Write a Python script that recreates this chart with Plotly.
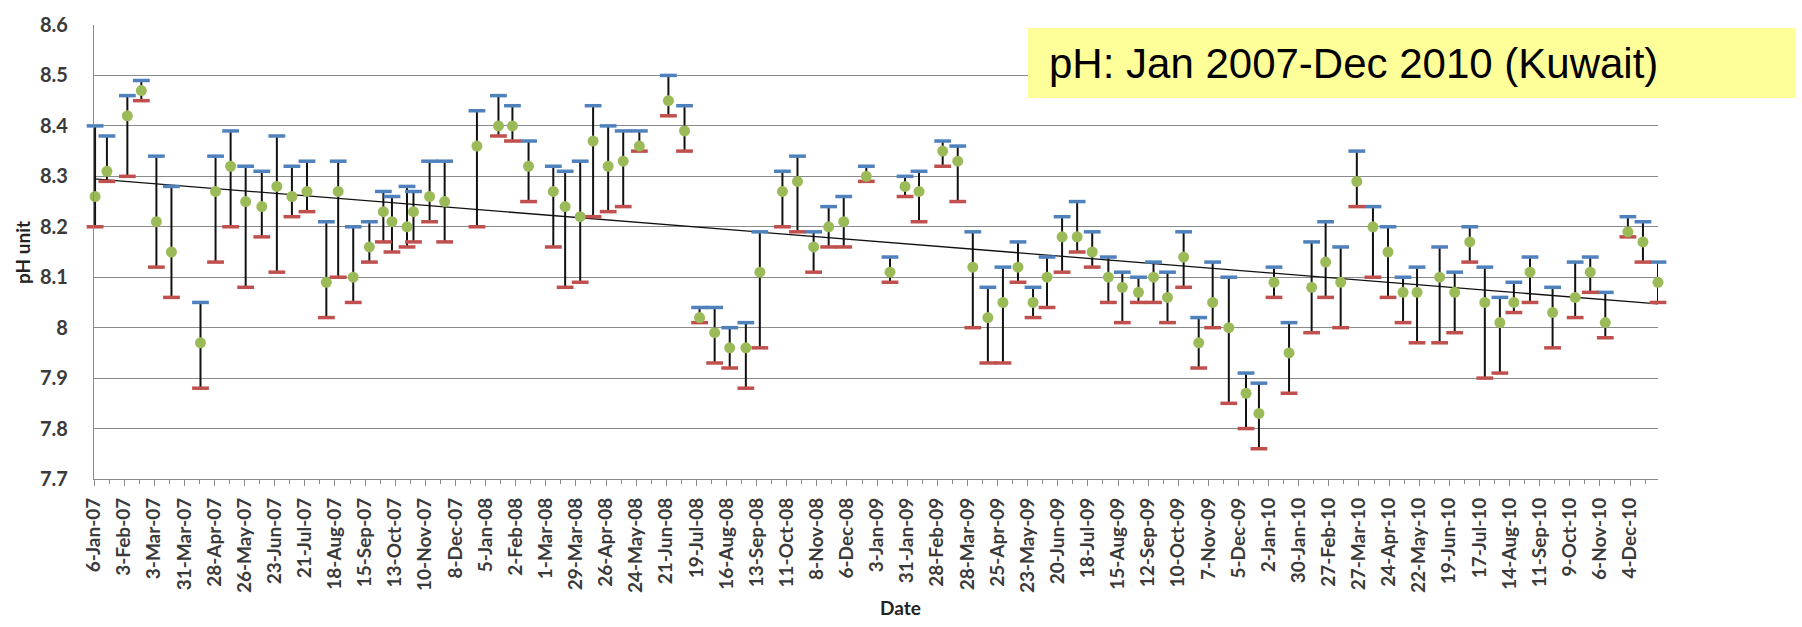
import plotly.graph_objects as go

# ---------------- data ----------------
dates = [
    "2007-01-07", "2007-01-18", "2007-02-06", "2007-02-19", "2007-03-05", "2007-03-19",
    "2007-04-15", "2007-04-29", "2007-05-13", "2007-05-27", "2007-06-11", "2007-06-25",
    "2007-07-09", "2007-07-23", "2007-08-10", "2007-08-21", "2007-09-04", "2007-09-19",
    "2007-10-02", "2007-10-10", "2007-10-24", "2007-10-30", "2007-11-14", "2007-11-28",
    "2007-12-28", "2008-01-17", "2008-01-30", "2008-02-14", "2008-03-08", "2008-03-19",
    "2008-04-02", "2008-04-14", "2008-04-28", "2008-05-12", "2008-05-27", "2008-06-23",
    "2008-07-08", "2008-07-22", "2008-08-05", "2008-08-19", "2008-09-03", "2008-09-16",
    "2008-10-07", "2008-10-21", "2008-11-05", "2008-11-19", "2008-12-03", "2008-12-24",
    "2009-01-15", "2009-01-29", "2009-02-11", "2009-03-05", "2009-03-19", "2009-04-02",
    "2009-04-16", "2009-04-30", "2009-05-14", "2009-05-28", "2009-06-10", "2009-06-24",
    "2009-07-08", "2009-07-22", "2009-08-06", "2009-08-19", "2009-09-03", "2009-09-17",
    "2009-09-30", "2009-10-15", "2009-10-29", "2009-11-11", "2009-11-26", "2009-12-12",
    "2009-12-24", "2010-01-07", "2010-01-21", "2010-02-11", "2010-02-24", "2010-03-10",
    "2010-03-25", "2010-04-09", "2010-04-23", "2010-05-07", "2010-05-20", "2010-06-10",
    "2010-06-24", "2010-07-08", "2010-07-22", "2010-08-05", "2010-08-18", "2010-09-02",
    "2010-09-23", "2010-10-14", "2010-10-28", "2010-11-11", "2010-12-02", "2010-12-16",
    "2010-12-30",
]
ph_high = [
    8.40, 8.38, 8.46, 8.49, 8.34, 8.28, 8.05, 8.34, 8.39, 8.32, 8.31, 8.38,
    8.32, 8.33, 8.21, 8.33, 8.20, 8.21, 8.27, 8.26, 8.28, 8.27, 8.33, 8.33,
    8.43, 8.46, 8.44, 8.37, 8.32, 8.31, 8.33, 8.44, 8.40, 8.39, 8.39, 8.50,
    8.44, 8.04, 8.04, 8.00, 8.01, 8.19, 8.31, 8.34, 8.19, 8.24, 8.26, 8.32,
    8.14, 8.30, 8.31, 8.37, 8.36, 8.19, 8.08, 8.12, 8.17, 8.08, 8.14, 8.22,
    8.25, 8.19, 8.14, 8.11, 8.10, 8.13, 8.11, 8.19, 8.02, 8.13, 8.10, 7.91,
    7.89, 8.12, 8.01, 8.17, 8.21, 8.16, 8.35, 8.24, 8.20, 8.10, 8.12, 8.16,
    8.11, 8.20, 8.12, 8.06, 8.09, 8.14, 8.08, 8.13, 8.14, 8.07, 8.22, 8.21,
    8.13,
]
ph_mean = [
    8.26, 8.31, 8.42, 8.47, 8.21, 8.15, 7.97, 8.27, 8.32, 8.25, 8.24, 8.28,
    8.26, 8.27, 8.09, 8.27, 8.10, 8.16, 8.23, 8.21, 8.20, 8.23, 8.26, 8.25,
    8.36, 8.40, 8.40, 8.32, 8.27, 8.24, 8.22, 8.37, 8.32, 8.33, 8.36, 8.45,
    8.39, 8.02, 7.99, 7.96, 7.96, 8.11, 8.27, 8.29, 8.16, 8.20, 8.21, 8.30,
    8.11, 8.28, 8.27, 8.35, 8.33, 8.12, 8.02, 8.05, 8.12, 8.05, 8.10, 8.18,
    8.18, 8.15, 8.10, 8.08, 8.07, 8.10, 8.06, 8.14, 7.97, 8.05, 8.00, 7.87,
    7.83, 8.09, 7.95, 8.08, 8.13, 8.09, 8.29, 8.20, 8.15, 8.07, 8.07, 8.10,
    8.07, 8.17, 8.05, 8.01, 8.05, 8.11, 8.03, 8.06, 8.11, 8.01, 8.19, 8.17,
    8.09,
]
ph_low = [
    8.20, 8.29, 8.30, 8.45, 8.12, 8.06, 7.88, 8.13, 8.20, 8.08, 8.18, 8.11,
    8.22, 8.23, 8.02, 8.10, 8.05, 8.13, 8.17, 8.15, 8.16, 8.17, 8.21, 8.17,
    8.20, 8.38, 8.37, 8.25, 8.16, 8.08, 8.09, 8.22, 8.23, 8.24, 8.35, 8.42,
    8.35, 8.01, 7.93, 7.92, 7.88, 7.96, 8.20, 8.19, 8.11, 8.16, 8.16, 8.29,
    8.09, 8.26, 8.21, 8.32, 8.25, 8.00, 7.93, 7.93, 8.09, 8.02, 8.04, 8.11,
    8.15, 8.12, 8.05, 8.01, 8.05, 8.05, 8.01, 8.08, 7.92, 8.00, 7.85, 7.80,
    7.76, 8.06, 7.87, 7.99, 8.06, 8.00, 8.24, 8.10, 8.06, 8.01, 7.97, 7.97,
    7.99, 8.13, 7.90, 7.91, 8.03, 8.05, 7.96, 8.02, 8.07, 7.98, 8.18, 8.13,
    8.05,
]
trend_dates = ["2007-01-06", "2010-12-30"]
trend_values = [8.295, 8.047]

y_tickvals = [7.7, 7.8, 7.9, 8.0, 8.1, 8.2, 8.3, 8.4, 8.5, 8.6]
y_ticktext = ["7.7", "7.8", "7.9", "8", "8.1", "8.2", "8.3", "8.4", "8.5", "8.6"]

title_text = "pH: Jan 2007-Dec 2010 (Kuwait)"
y_title = "pH unit"
x_title = "Date"

# ---------------- layout geometry (pixels) ----------------
W, H = 1802, 627
L, R, T, B = 94, 1658, 19, 479
DAY = 86400000


def px(x):
    return (x - L) / (R - L)


def py(y):
    return (B - y) / (B - T)


GRID = "#8a8a8a"
YTICKFONT = dict(family="Lato", size=20, color="#3a3a3a", weight="bold")
XTICKFONT = dict(family="Lato", size=19, color="#3a3a3a", weight="bold")
TITLEFONT = dict(family="Lato", size=19, color="#222222", weight="bold")

vx, vy = [], []
for d, hi, lo in zip(dates, ph_high, ph_low):
    vx += [d, d, None]
    vy += [lo, hi, None]

fig = go.Figure()
fig.add_trace(go.Scatter(x=vx, y=vy, mode="lines",
                         line=dict(color="#111111", width=2),
                         hoverinfo="skip", showlegend=False, cliponaxis=False))
fig.add_trace(go.Scatter(x=trend_dates, y=trend_values, mode="lines",
                         line=dict(color="#111111", width=1.3),
                         hoverinfo="skip", showlegend=False))
fig.add_trace(go.Scatter(x=dates, y=ph_high, mode="markers", name="High",
                         marker=dict(symbol="line-ew", size=12,
                                     line=dict(color="#4F81BD", width=3.5)),
                         showlegend=False, cliponaxis=False))
fig.add_trace(go.Scatter(x=dates, y=ph_low, mode="markers", name="Low",
                         marker=dict(symbol="line-ew", size=12,
                                     line=dict(color="#C0504D", width=3.5)),
                         showlegend=False, cliponaxis=False))
fig.add_trace(go.Scatter(x=dates, y=ph_mean, mode="markers", name="Mean",
                         marker=dict(symbol="circle", size=11, color="#9BBB59",
                                     line=dict(width=0)),
                         showlegend=False, cliponaxis=False))

fig.update_layout(
    width=W, height=H,
    margin=dict(l=L, r=W - R, t=T, b=H - B, pad=0),
    paper_bgcolor="white", plot_bgcolor="white",
    showlegend=False,
    xaxis=dict(
        type="date",
        range=[trend_dates[0], trend_dates[1]],
        tick0="2007-01-06", dtick=28 * DAY,
        tickformat="%-d-%b-%y", tickangle=-90,
        ticks="outside", ticklen=6, tickwidth=1.3, tickcolor=GRID,
        ticklabelstandoff=4,
        showline=True, linecolor=GRID, linewidth=1.3,
        showgrid=False, zeroline=False,
        tickfont=XTICKFONT,
        minor=dict(tick0="2007-01-06", dtick=14 * DAY, ticks="outside",
                   ticklen=4, tickwidth=1.3, tickcolor=GRID, showgrid=False),
    ),
    yaxis=dict(
        range=[7.7, 8.6],
        tickvals=y_tickvals, ticktext=y_ticktext,
        showgrid=True, gridcolor=GRID, gridwidth=1.3,
        showline=True, linecolor=GRID, linewidth=1.3,
        zeroline=False, ticks="",
        ticklabelstandoff=21,
        tickfont=YTICKFONT,
    ),
    shapes=[dict(type="rect", xref="paper", yref="paper",
                 x0=px(1028), x1=px(1796), y0=py(93), y1=py(22),
                 fillcolor="#FFFF99", line=dict(width=0), layer="above")],
    annotations=[
        dict(text=title_text, xref="paper", yref="paper",
             x=px(1047), y=py(58), xanchor="left", yanchor="middle",
             showarrow=False,
             font=dict(family="Liberation Sans", size=42, color="black")),
        dict(text=y_title, xref="paper", yref="paper",
             x=px(23), y=py(250), xanchor="center", yanchor="middle",
             textangle=-90, showarrow=False, font=TITLEFONT),
        dict(text=x_title, xref="paper", yref="paper",
             x=px(900), y=py(609), xanchor="center", yanchor="middle",
             showarrow=False, font=TITLEFONT),
    ],
)

fig.write_html("out.html")
